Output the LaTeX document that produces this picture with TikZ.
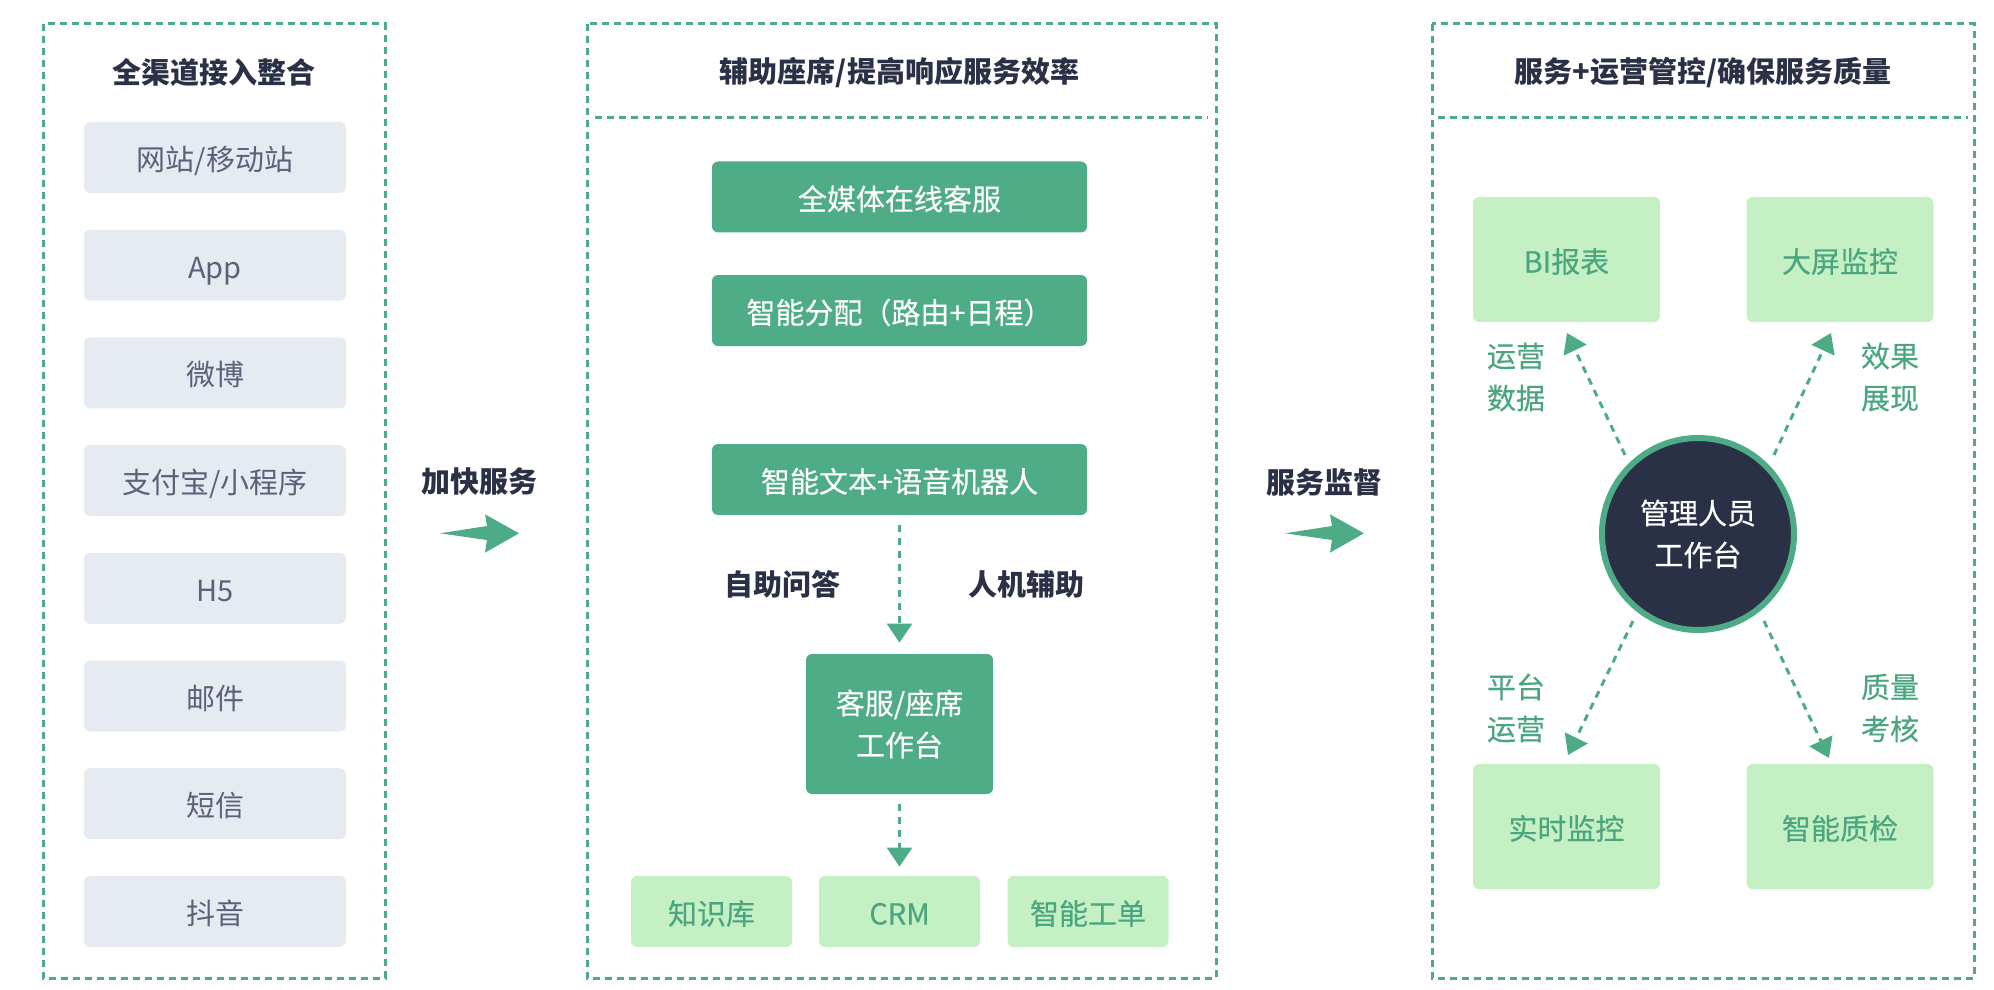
\documentclass[tikz,border=0pt]{standalone}
\usepackage{fontspec}
\setmainfont{Noto Sans CJK SC}
\newfontfamily\medfont[FakeBold=0.35]{Noto Sans CJK SC}
\usetikzlibrary{arrows.meta}
\definecolor{gborder}{HTML}{4DAC86}
\definecolor{gfill}{HTML}{4EAC87}
\definecolor{lgfill}{HTML}{C4F0C3}
\definecolor{lgtext}{HTML}{4AA580}
\definecolor{grayfill}{HTML}{E6EBF1}
\definecolor{graytext}{HTML}{5B6179}
\definecolor{darktext}{HTML}{2A3045}
\begin{document}
\begin{tikzpicture}[x=0.5pt,y=-0.5pt,
  txt/.style={font=\fontsize{14.5}{21}\selectfont, align=center, inner sep=0pt},
  oneline/.style={text height=13.5pt, text depth=0.5pt},
  container/.style={draw=gborder, line width=1.5pt, dash pattern=on 3.5pt off 2.5pt},
  sepline/.style={draw=gborder, line width=1.5pt, dash pattern=on 3.5pt off 2.5pt},
  title/.style={txt, text=darktext, font=\fontsize{14.5}{21}\selectfont\bfseries},
  graybox/.style={txt, oneline, fill=grayfill, text=graytext, rounded corners=3pt, minimum width=131pt, minimum height=35.5pt},
  darkbox/.style={txt, fill=gfill, text=white, font=\fontsize{14.5}{21}\selectfont\medfont, rounded corners=3pt, minimum width=187.5pt, minimum height=35.5pt},
  lightbox/.style={txt, oneline, fill=lgfill, text=lgtext, font=\fontsize{14.5}{21}\selectfont\medfont, rounded corners=3pt},
  darklabel/.style={txt, text=darktext, font=\fontsize{14.5}{21}\selectfont\bfseries},
  greenlabel/.style={txt, text=lgtext, font=\fontsize{14.5}{21}\selectfont\medfont},
  flow/.style={draw=gborder, line width=1.5pt, dash pattern=on 3.5pt off 3pt, -{Triangle[width=12.5pt,length=9.5pt]}},
  bigarrow/.style={fill=gborder, draw=none}
]
\useasboundingbox (0,0) rectangle (1994,990);

% ---------- left container ----------
\draw[container] (43,24) rectangle (385,978);
\node[title] (t1) at (214,73) {全渠道接入整合};
\node[graybox] (c1) at (215,157.5) {网站/移动站};
\node[graybox] (c2) at (215,265.2) {App};
\node[graybox] (c3) at (215,372.9) {微博};
\node[graybox] (c4) at (215,480.6) {支付宝/小程序};
\node[graybox] (c5) at (215,588.3) {H5};
\node[graybox] (c6) at (215,696) {邮件};
\node[graybox] (c7) at (215,803.7) {短信};
\node[graybox] (c8) at (215,911.4) {抖音};

% ---------- arrow 1 ----------
\node[darklabel] (l1) at (479,482) {加快服务};
\fill[bigarrow] (440,533.3) -- (487,526) -- (485,514.3) -- (519,533.3) -- (485,552.7) -- (487,540) -- cycle;

% ---------- middle container ----------
\draw[container] (587,24) rectangle (1216,978);
\draw[sepline] (595,118) -- (1208,118);
\node[title] (t2) at (899.5,73) {辅助座席/提高响应服务效率};
\node[darkbox, oneline] (m1) at (899.5,197) {全媒体在线客服};
\node[darkbox, oneline] (m2) at (899.5,310.5) {智能分配（路由+日程）};
\node[darkbox, oneline] (m3) at (899.5,479.5) {智能文本+语音机器人};
\node[darkbox, minimum width=93.5pt, minimum height=70pt] (m4) at (899.5,724) {客服/座席\\工作台};
\node[darklabel] (q1) at (782,584) {自助问答};
\node[darklabel] (q2) at (1026,584) {人机辅助};
\node[lightbox, minimum width=80.5pt, minimum height=35.5pt] (b1) at (711.5,911.5) {知识库};
\node[lightbox, minimum width=80.5pt, minimum height=35.5pt] (b2) at (899.5,911.5) {CRM};
\node[lightbox, minimum width=80.5pt, minimum height=35.5pt] (b3) at (1088,911.5) {智能工单};
\draw[flow, shorten <=5pt, shorten >=5.5pt] (m3.south) -- (m4.north);
\draw[flow, shorten <=5pt, shorten >=4.5pt] (m4.south) -- (b2.north);

% ---------- arrow 2 ----------
\node[darklabel] (l2) at (1324,482) {服务监督};
\fill[bigarrow] (1285,533.3) -- (1332,526) -- (1330,514.3) -- (1364,533.3) -- (1330,552.7) -- (1332,540) -- cycle;

% ---------- right container ----------
\draw[container] (1432,24) rectangle (1974,978);
\draw[sepline] (1438,118) -- (1968,118);
\node[title] (t3) at (1703,73) {服务+运营管控/确保服务质量};
\node[lightbox, minimum width=93.5pt, minimum height=62.5pt] (r1) at (1566.5,259.5) {BI报表};
\node[lightbox, minimum width=93.5pt, minimum height=62.5pt] (r2) at (1840,259.5) {大屏监控};
\node[lightbox, minimum width=93.5pt, minimum height=62.5pt] (r3) at (1566.5,826.5) {实时监控};
\node[lightbox, minimum width=93.5pt, minimum height=62.5pt] (r4) at (1840,826.5) {智能质检};
\node[txt, circle, fill=darktext, draw=gborder, line width=3pt, minimum size=96pt, text=white, font=\fontsize{14.5}{21}\selectfont\medfont] (hub) at (1698,534) {管理人员\\工作台};

\coordinate (s1) at (1625,455);
\coordinate (e1) at (1567,333);
\coordinate (s2) at (1774,455);
\coordinate (e2) at (1831,333);
\coordinate (s3) at (1633,621);
\coordinate (e3) at (1568,755);
\coordinate (s4) at (1764,621);
\coordinate (e4) at (1829,758);
\draw[flow] (s1) -- (e1);
\draw[flow] (s2) -- (e2);
\draw[flow] (s3) -- (e3);
\draw[flow] (s4) -- (e4);

\node[greenlabel] (g1) at (1516,377) {运营\\数据};
\node[greenlabel] (g2) at (1890,377) {效果\\展现};
\node[greenlabel] (g3) at (1516,708) {平台\\运营};
\node[greenlabel] (g4) at (1890,708) {质量\\考核};
\end{tikzpicture}
\end{document}
